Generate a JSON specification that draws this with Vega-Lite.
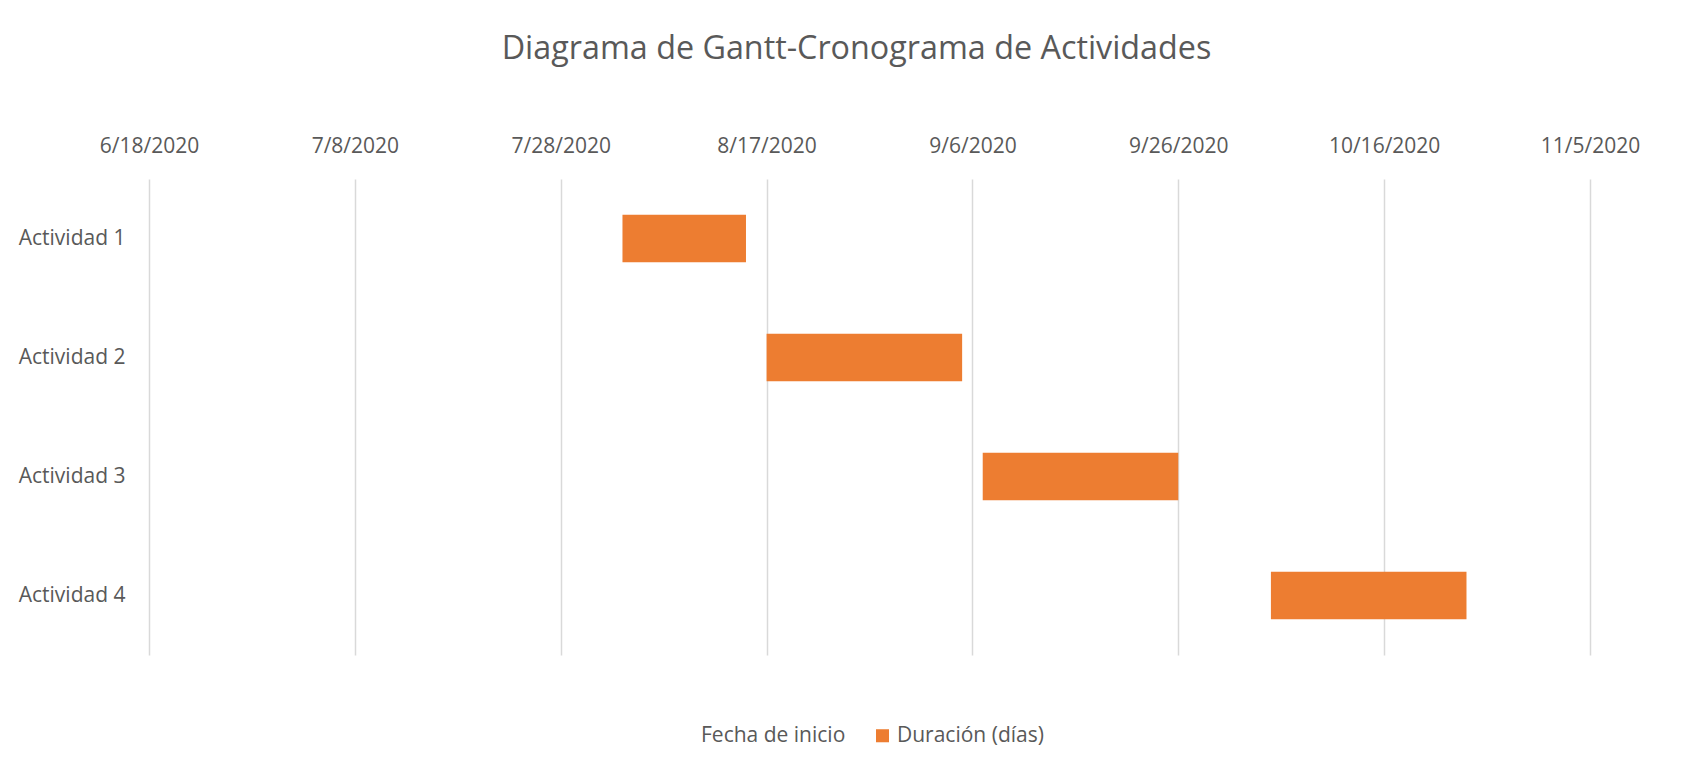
{
  "$schema": "https://vega.github.io/schema/vega-lite/v6.json",
  "autosize": {"type": "none"},
  "width": 1441,
  "height": 476,
  "padding": {"left": 149, "top": 179, "right": 111, "bottom": 115},
  "background": "white",
  "title": {
    "text": "Diagrama de Gantt-Cronograma de Actividades",
    "font": "Open Sans",
    "fontSize": 32.3,
    "fontWeight": "normal",
    "color": "#595959",
    "anchor": "middle",
    "offset": 70,
    "dx": -13
  },
  "data": {
    "values": [
      {"actividad": "Actividad 1", "inicio": "2020-08-03", "fin": "2020-08-15", "serie": "Duración (días)"},
      {"actividad": "Actividad 2", "inicio": "2020-08-17", "fin": "2020-09-05", "serie": "Duración (días)"},
      {"actividad": "Actividad 3", "inicio": "2020-09-07", "fin": "2020-09-26", "serie": "Duración (días)"},
      {"actividad": "Actividad 4", "inicio": "2020-10-05", "fin": "2020-10-24", "serie": "Duración (días)"}
    ]
  },
  "mark": {"type": "bar"},
  "encoding": {
    "y": {
      "field": "actividad",
      "type": "nominal",
      "title": null,
      "scale": {"paddingInner": 0.6, "paddingOuter": 0.3},
      "axis": {
        "domain": false,
        "ticks": false,
        "grid": false,
        "labelFont": "Open Sans",
        "labelFontSize": 21,
        "labelColor": "#595959",
        "labelPadding": 24
      }
    },
    "x": {
      "field": "inicio",
      "type": "temporal",
      "title": null,
      "scale": {
        "type": "utc",
        "nice": false,
        "domain": [
          {"year": 2020, "month": 6, "date": 18, "utc": true},
          {"year": 2020, "month": 11, "date": 5, "utc": true}
        ]
      },
      "axis": {
        "orient": "top",
        "values": [
          {"year": 2020, "month": 6, "date": 18, "utc": true},
          {"year": 2020, "month": 7, "date": 8, "utc": true},
          {"year": 2020, "month": 7, "date": 28, "utc": true},
          {"year": 2020, "month": 8, "date": 17, "utc": true},
          {"year": 2020, "month": 9, "date": 6, "utc": true},
          {"year": 2020, "month": 9, "date": 26, "utc": true},
          {"year": 2020, "month": 10, "date": 16, "utc": true},
          {"year": 2020, "month": 11, "date": 5, "utc": true}
        ],
        "format": "%-m/%-d/%Y",
        "domain": false,
        "ticks": false,
        "grid": true,
        "gridColor": "#D9D9D9",
        "gridWidth": 1.5,
        "labelFont": "Open Sans",
        "labelFontSize": 21,
        "labelColor": "#595959",
        "labelPadding": 27,
        "labelBaseline": "alphabetic",
        "labelFlush": false,
        "labelOverlap": false
      }
    },
    "x2": {"field": "fin"},
    "color": {
      "field": "serie",
      "type": "nominal",
      "title": null,
      "scale": {
        "domain": ["Fecha de inicio", "Duración (días)"],
        "range": ["transparent", "#ED7D31"]
      },
      "legend": {
        "orient": "none",
        "legendX": 527,
        "legendY": 546,
        "direction": "horizontal",
        "symbolType": "square",
        "symbolSize": 170,
        "symbolStrokeWidth": 0,
        "labelFont": "Open Sans",
        "labelFontSize": 21,
        "labelColor": "#595959",
        "labelOffset": 4,
        "columnPadding": 26
      }
    }
  },
  "config": {
    "view": {"stroke": null}
  }
}
